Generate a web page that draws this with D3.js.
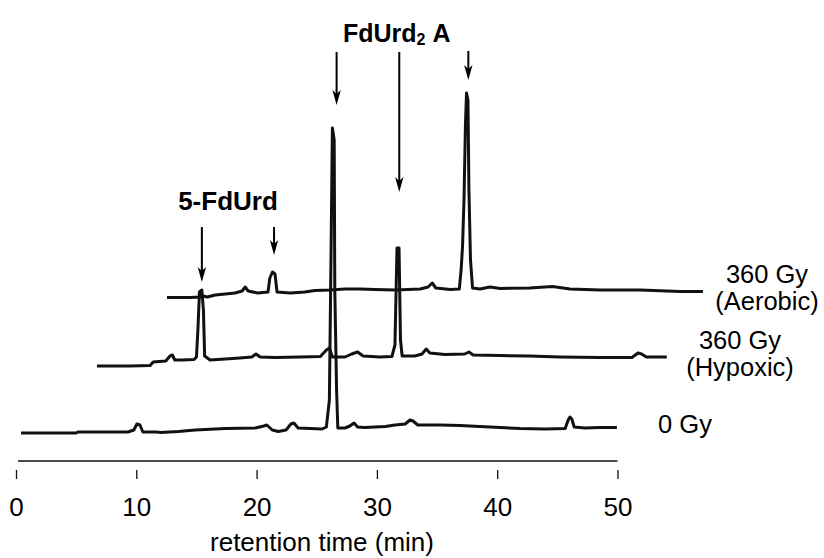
<!DOCTYPE html>
<html>
<head>
<meta charset="utf-8">
<script src="https://cdn.jsdelivr.net/npm/d3@7"></script>
<style>
  html, body { margin: 0; padding: 0; background: #fff; }
  svg { display: block; }
  text { font-family: Arial, "Liberation Sans", sans-serif; fill: #000; }
</style>
</head>
<body>
<svg id="chart" width="824" height="558"></svg>
<script>
// ---------- data (retention time in min, detector signal in arbitrary units) ----------
const traceNames = ["0 Gy", "360 Gy (Hypoxic)", "360 Gy (Aerobic)"];
const traceOffsets = [0, 70, 140];   // vertical stacking of the traces (signal units)

const trace0Gy = [
  [0.42,7],[3.66,7],[4.99,7],[5.15,8],[9.3,8],[9.8,10],[10.05,16],[10.3,15],[10.55,8],
  [11.7,8],[12.0,7.5],[13.5,8.5],[14.9,10],[17.4,11.5],[19.9,12],[20.6,14],[20.85,15],
  [21.3,10],[21.8,8.5],[22.45,10],[22.85,16],[23.1,17],[23.45,12],[25.45,11],[25.8,13],
  [26.05,40],[26.2,200],[26.3,312],[26.45,300],[26.5,150],[26.65,50],[26.75,12],
  [27.35,12],[27.75,14],[28.1,17],[28.4,13],[29.0,12.5],[30.7,13.5],[31.5,15],[32.35,16],
  [32.75,20],[33.0,19],[33.4,15],[35.25,15],[36.9,14.5],[38.55,13.5],[40.25,12.5],
  [41.9,11.5],[44.0,11],[45.65,11.5],[45.9,20],[46.05,23],[46.2,21],[46.4,13],[47.3,12],
  [48.55,12.5],[49.95,12.5]
];

const traceHypoxic = [
  [6.73,4],[9.48,4],[11.15,4.5],[11.4,8],[12.45,9],[12.8,14],[13.0,15],[13.2,10],[13.8,10],
  [14.8,10.5],[15.0,13],[15.12,40],[15.25,78],[15.45,80],[15.58,60],[15.68,14],[16.13,10],
  [17.4,11],[18.6,12],[19.6,13],[19.95,16],[20.3,13],[21.5,12.5],[23.6,13],[25.3,13.5],
  [25.8,20],[26.05,22],[26.3,13],[27.35,13],[27.9,16],[28.4,18],[28.85,14],[30.25,13],
  [31.25,13.5],[31.5,25],[31.67,122],[31.84,122],[31.96,30],[32.1,14],[33.15,14],
  [33.75,16],[34.1,21],[34.4,17],[35.65,15.5],[37.3,16],[37.65,18],[38.0,15],[40.25,14.5],
  [42.7,14],[45.2,13],[48.55,12.5],[51.2,12.5],[51.7,17],[52.0,16],[52.4,13],[54.1,13]
];

const traceAerobic = [
  [12.55,2.5],[14.46,2.5],[15.3,3],[15.55,4],[15.9,3],[16.55,5],[17.4,6],[18.2,7],[18.8,9],
  [19.05,13],[19.3,9],[20.1,7],[20.95,8],[21.1,22],[21.32,28],[21.53,26],[21.7,8],[22.8,7],
  [24.0,8],[24.85,9.5],[26.1,10],[27.35,11],[28.6,11],[29.85,10.5],[31.5,10],[33.6,11],
  [34.25,13],[34.6,17],[34.9,12],[36.1,10.5],[36.85,11],[37.0,30],[37.12,54],[37.24,100],
  [37.36,175],[37.45,207],[37.57,200],[37.65,110],[37.78,40],[37.95,12],[38.57,11],
  [39.4,13],[40.25,11.5],[42.7,12],[44.6,13.5],[46.05,11],[48.55,10],[51.9,10],
  [55.2,8.5],[57.1,8.5]
];

const traces = [trace0Gy, traceHypoxic, traceAerobic];

// x-axis ticks
const xTicks = [0, 10, 20, 30, 40, 50];
const xTitle = "retention time (min)";

// arrows: time, tail and tip (signal units, absolute)
const arrowTimes = [15.45, 21.45, 26.65, 31.86, 37.6];
const arrowTails = [213, 213, 388, 388, 389];
const arrowTips  = [158, 185, 335, 248, 360];

// ---------- drawing ----------
const svg = d3.select("#chart");
const x = d3.scaleLinear().domain([0, 50]).range([16, 617.5]);
const y = d3.scaleLinear().domain([0, 400]).range([440, 40]);

// traces
const line = d3.line()
  .x(d => x(d[0]))
  .y(d => y(d[1]));

traces.forEach((tr, i) => {
  svg.append("path")
    .datum(tr.map(d => [d[0], d[1] + traceOffsets[i]]))
    .attr("d", line)
    .attr("fill", "none")
    .attr("stroke", "#111")
    .attr("stroke-width", 3)
    .attr("stroke-linejoin", "round")
    .attr("stroke-linecap", "butt");
});

// x axis: baseline line, then ticks separated below
svg.append("line")
  .attr("x1", x(0) + 2).attr("x2", x(50))
  .attr("y1", 461).attr("y2", 461)
  .attr("stroke", "#111").attr("stroke-width", 1.6);

const axisG = svg.append("g").attr("transform", "translate(0,470)");
const xAxis = d3.axisBottom(x).tickValues(xTicks).tickSize(9).tickPadding(28)
  .tickFormat(d3.format("d"));
axisG.call(xAxis);
axisG.select(".domain").remove();
axisG.selectAll(".tick line").attr("stroke", "#111").attr("stroke-width", 1.3);
axisG.selectAll(".tick text")
  .attr("font-size", 26)
  .attr("font-family", "Arial, 'Liberation Sans', sans-serif")
  .attr("fill", "#000")
  .attr("dy", 0)
  .attr("y", 46);

svg.append("text")
  .attr("x", 322).attr("y", 551)
  .attr("text-anchor", "middle")
  .attr("font-size", 26)
  .text(xTitle);

// arrows
const arrowG = svg.append("g");
arrowTimes.forEach((t, i) => {
  const ax = x(t), y0 = y(arrowTails[i]), y1 = y(arrowTips[i]);
  arrowG.append("line")
    .attr("x1", ax).attr("x2", ax)
    .attr("y1", y0).attr("y2", y1 - 8)
    .attr("stroke", "#000").attr("stroke-width", 2);
  arrowG.append("path")
    .attr("d", `M${ax},${y1} L${ax - 4.2},${y1 - 15} L${ax},${y1 - 11} L${ax + 4.2},${y1 - 15} Z`)
    .attr("fill", "#000");
});

// peak labels
svg.append("text")
  .attr("x", 228).attr("y", 210)
  .attr("text-anchor", "middle")
  .attr("font-size", 26).attr("font-weight", "bold")
  .text("5-FdUrd");

const lab2 = svg.append("text")
  .attr("x", 343).attr("y", 42)
  .attr("font-size", 25).attr("font-weight", "bold");
lab2.append("tspan").text("FdUrd");
lab2.append("tspan").attr("font-size", 16).attr("dy", 3).text("2");
lab2.append("tspan").attr("dy", -3).text("\u00A0A");

// trace labels (each line its own text element)
const traceLabelLines = [
  {text: "0 Gy", cx: 685, y: 433},
  {text: "360 Gy", cx: 740, y: 349},
  {text: "(Hypoxic)", cx: 740, y: 376},
  {text: "360 Gy", cx: 767, y: 283},
  {text: "(Aerobic)", cx: 767, y: 310}
];
svg.append("g").selectAll("text")
  .data(traceLabelLines)
  .join("text")
  .attr("x", d => d.cx).attr("y", d => d.y)
  .attr("text-anchor", "middle")
  .attr("font-size", 25.5)
  .text(d => d.text);
</script>
</body>
</html>
